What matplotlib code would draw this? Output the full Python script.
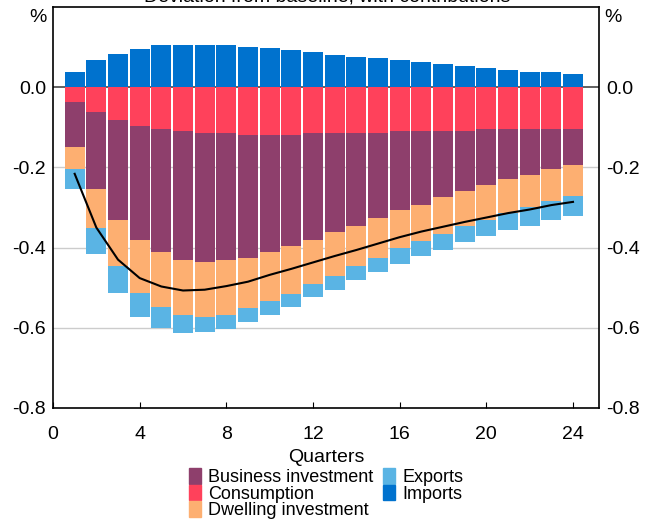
import matplotlib
matplotlib.use('Agg')
import matplotlib.pyplot as plt
from matplotlib.patches import Patch
import numpy as np

plt.rcParams['font.family'] = ['Liberation Sans', 'DejaVu Sans']

quarters = np.arange(1, 25)

# contributions, percentage points
consumption = [-0.036, -0.061, -0.081, -0.096, -0.103, -0.110, -0.113, -0.115,
               -0.118, -0.118, -0.118, -0.115, -0.115, -0.113, -0.113, -0.110,
               -0.110, -0.108, -0.108, -0.105, -0.105, -0.103, -0.103, -0.103]
business = [-0.114, -0.194, -0.251, -0.286, -0.309, -0.320, -0.322, -0.317,
            -0.307, -0.294, -0.279, -0.265, -0.247, -0.232, -0.214, -0.197,
            -0.183, -0.167, -0.152, -0.140, -0.125, -0.115, -0.102, -0.092]
dwelling = [-0.053, -0.095, -0.115, -0.130, -0.137, -0.139, -0.137, -0.135,
            -0.126, -0.122, -0.118, -0.112, -0.108, -0.102, -0.098, -0.095,
            -0.090, -0.090, -0.085, -0.085, -0.083, -0.082, -0.080, -0.077]
exports = [-0.051, -0.066, -0.067, -0.060, -0.052, -0.044, -0.039, -0.035,
           -0.035, -0.033, -0.032, -0.032, -0.035, -0.035, -0.037, -0.038,
           -0.039, -0.040, -0.042, -0.042, -0.044, -0.045, -0.045, -0.048]
imports = [0.039, 0.067, 0.084, 0.096, 0.104, 0.106, 0.106, 0.106,
           0.101, 0.099, 0.094, 0.089, 0.081, 0.076, 0.072, 0.067,
           0.062, 0.057, 0.052, 0.047, 0.044, 0.039, 0.037, 0.034]
total = [-0.216, -0.350, -0.430, -0.476, -0.497, -0.507, -0.505, -0.496,
         -0.485, -0.468, -0.453, -0.437, -0.421, -0.406, -0.390, -0.374,
         -0.360, -0.348, -0.336, -0.325, -0.314, -0.305, -0.294, -0.286]

col_bus = '#8E3F6C'
col_cons = '#FF415B'
col_dwell = '#FDAF71'
col_exp = '#5AB4E4'
col_imp = '#0072CE'

fig = plt.figure(figsize=(6.51, 5.23), dpi=100)
ax = fig.add_axes([53/651, 1-408/523, 546/651, 401/523])

w = 0.92
base = np.zeros(24)
for vals, c in [(consumption, col_cons), (business, col_bus),
                (dwelling, col_dwell), (exports, col_exp)]:
    ax.bar(quarters, vals, w, bottom=base, color=c, zorder=2, linewidth=0)
    base = base + np.array(vals)
ax.bar(quarters, imports, w, color=col_imp, zorder=2, linewidth=0)

ax.plot(quarters, total, color='black', lw=1.5, zorder=3)

for yv in [-0.2, -0.4, -0.6]:
    ax.axhline(yv, color='#cccccc', lw=1.0, zorder=1)
ax.axhline(0, color='#555555', lw=1.3, zorder=1)

ax.set_xlim(0, 25.2)
ax.set_ylim(-0.8, 0.2)
ax.set_xticks([0, 4, 8, 12, 16, 20, 24])
ax.set_yticks([-0.8, -0.6, -0.4, -0.2, 0.0])
ax.set_yticklabels(['-0.8', '-0.6', '-0.4', '-0.2', '0.0'])
ax.tick_params(axis='x', direction='in', length=4, labelsize=14, pad=13)
ax.tick_params(axis='y', length=0, labelsize=14, pad=5,
               labelleft=True, labelright=True)
for s in ax.spines.values():
    s.set_linewidth(1.2)

ax.set_xlabel('Quarters', fontsize=14, labelpad=4)
fig.text(38/651, 1-18/523, '%', fontsize=14, ha='center', va='center')
fig.text(613/651, 1-18/523, '%', fontsize=14, ha='center', va='center')
fig.text(327/651, 1+3/523, 'Deviation from baseline, with contributions',
         fontsize=14, ha='center', va='center')

handles = [Patch(color=col_bus, label='Business investment'),
           Patch(color=col_cons, label='Consumption'),
           Patch(color=col_dwell, label='Dwelling investment'),
           Patch(color=col_exp, label='Exports'),
           Patch(color=col_imp, label='Imports')]
fig.legend(handles=handles, ncol=2, loc='upper center',
           bbox_to_anchor=(326/651, 1-468/523), frameon=False,
           fontsize=13, handlelength=0.66, handleheight=0.95,
           handletextpad=0.4, labelspacing=-0.08, columnspacing=0.55,
           borderpad=0, borderaxespad=0)

fig.savefig('out.png', dpi=100)
